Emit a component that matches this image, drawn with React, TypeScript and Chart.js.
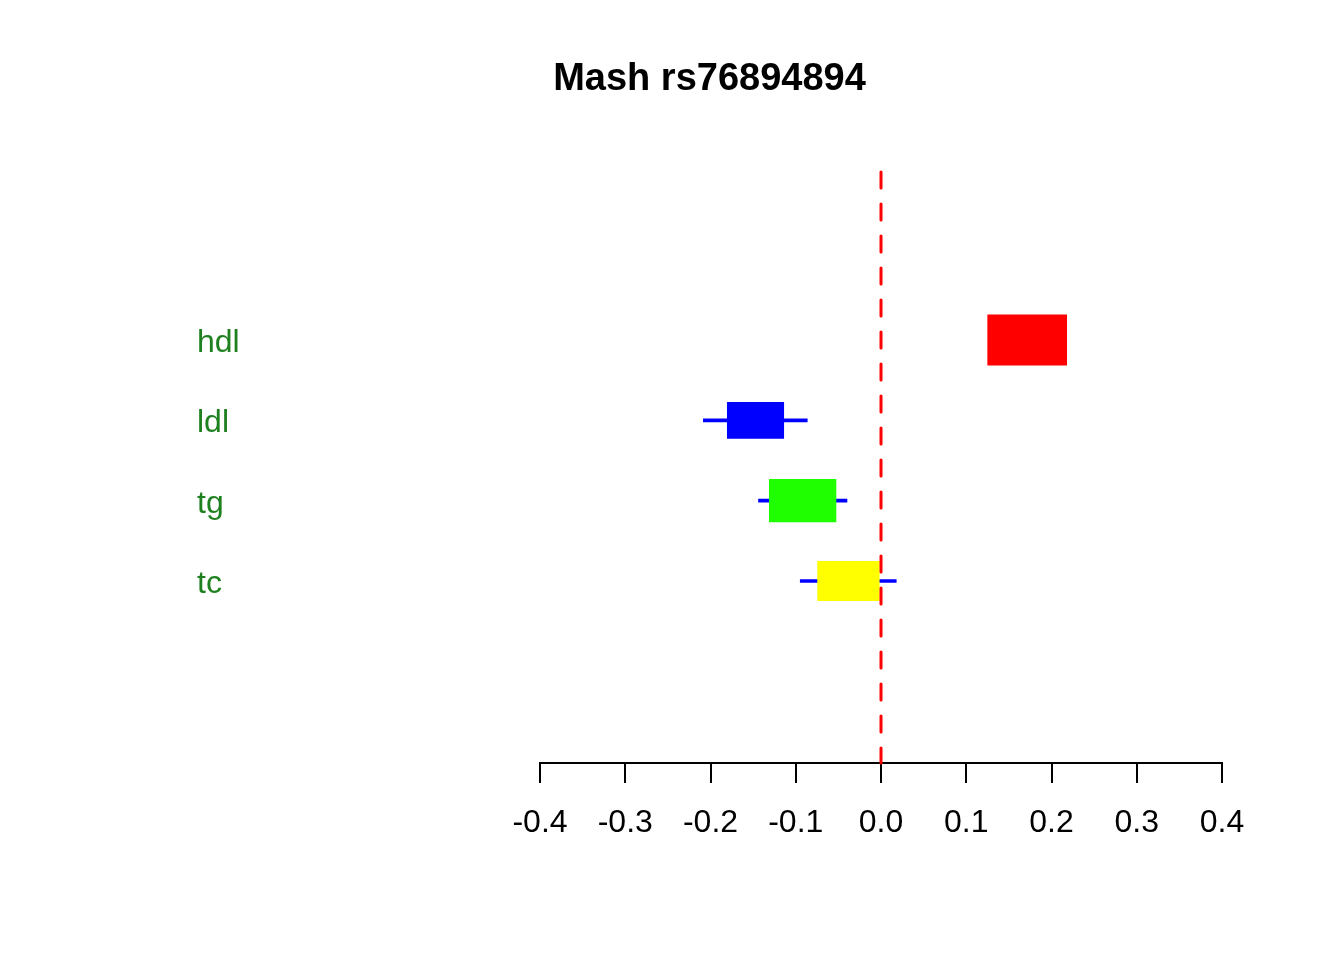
import React, { useEffect, useRef } from "react";
import { Chart, registerables } from "chart.js";

Chart.register(...registerables);

// ---- data ----
const chartTitle = "Mash rs76894894";
const traits = ["hdl", "ldl", "tg", "tc"];
const estimates = [0.1715, -0.1472, -0.0919, -0.0382];
const ciLower = [0.145, -0.2084, -0.1437, -0.0947];
const ciUpper = [0.198, -0.0865, -0.0399, 0.0179];
const boxWidths = [0.0927, 0.0662, 0.0782, 0.0723];
const boxColors = ["#FF0000", "#0000FF", "#1FFF00", "#FFFF00"];
const xTickValues = [-0.4, -0.3, -0.2, -0.1, 0.0, 0.1, 0.2, 0.3, 0.4];
const refLineValue = 0;

const FONT = "'Liberation Sans', Arial, Helvetica, sans-serif";

const rowPos = traits.map((_, i) => traits.length - i);

const refLinePlugin = {
  id: "refLine",
  afterDatasetsDraw(chart: any) {
    const { ctx, chartArea, scales } = chart;
    const x = scales.x.getPixelForValue(refLineValue);
    ctx.save();
    ctx.strokeStyle = "#FF0000";
    ctx.lineWidth = 3;
    ctx.lineCap = "round";
    ctx.setLineDash([16, 16]);
    ctx.beginPath();
    ctx.moveTo(x, chartArea.top + 2);
    ctx.lineTo(x, chartArea.bottom);
    ctx.stroke();
    ctx.restore();
  },
};

export default function App() {
  const canvasRef = useRef<HTMLCanvasElement | null>(null);

  useEffect(() => {
    if (!canvasRef.current) return;

    const whiskerDataset: any = {
      label: "CI",
      data: traits.map((_, i) => ({ x: [ciLower[i], ciUpper[i]], y: rowPos[i] })),
      backgroundColor: "#0000FF",
      barThickness: 3,
      grouped: false,
      order: 1,
    };

    const boxDatasets: any[] = traits.map((t, i) => ({
      label: t,
      data: [
        {
          x: [estimates[i] - boxWidths[i] / 2, estimates[i] + boxWidths[i] / 2],
          y: rowPos[i],
        },
      ],
      backgroundColor: boxColors[i],
      barThickness: boxWidths[i] * 543,
      grouped: false,
      order: 0,
    }));

    const chart = new Chart(canvasRef.current, {
      type: "bar",
      data: { datasets: [whiskerDataset, ...boxDatasets] },
      plugins: [refLinePlugin],
      options: {
        indexAxis: "y",
        animation: false,
        responsive: false,
        layout: { padding: { left: 197, right: 122, top: 0, bottom: 0 } },
        plugins: {
          legend: { display: false },
          tooltip: { enabled: false },
          title: {
            display: true,
            text: chartTitle,
            color: "#000000",
            font: { family: FONT, size: 38, weight: "bold" },
            padding: { top: 57, bottom: 67.4 },
          },
        },
        scales: {
          x: {
            type: "linear",
            position: "bottom",
            min: -0.4,
            max: 0.4,
            afterBuildTicks: (s: any) => {
              s.ticks = xTickValues.map((v) => ({ value: v }));
            },
            afterFit: (s: any) => {
              s.height = 197;
            },
            ticks: {
              autoSkip: false,
              maxRotation: 0,
              color: "#000000",
              padding: 21,
              font: { family: FONT, size: 32 },
              callback: (v: any) => (Math.abs(v) < 1e-9 ? 0 : Number(v)).toFixed(1),
            },
            grid: {
              drawOnChartArea: false,
              drawTicks: true,
              tickLength: 20,
              color: "#000000",
              lineWidth: 2,
            },
            border: { display: true, color: "#000000", width: 2 },
          },
          y: {
            type: "linear",
            position: "left",
            min: -1.2656,
            max: 6.1164,
            offset: false,
            afterBuildTicks: (s: any) => {
              s.ticks = rowPos.map((v) => ({ value: v }));
            },
            afterFit: (s: any) => {
              s.width = 343;
            },
            ticks: {
              crossAlign: "far",
              labelOffset: 3,
              color: "#1F801F",
              font: { family: FONT, size: 32 },
              callback: (v: any) => traits[traits.length - Number(v)],
            },
            grid: { display: false, drawTicks: false, offset: false },
            border: { display: false },
          },
        },
      } as any,
    });

    return () => chart.destroy();
  }, []);

  return (
    <div
      style={{
        position: "fixed",
        left: 0,
        top: 0,
        width: 1344,
        height: 960,
        background: "#ffffff",
      }}
    >
      <canvas ref={canvasRef} width={1344} height={960} />
    </div>
  );
}
